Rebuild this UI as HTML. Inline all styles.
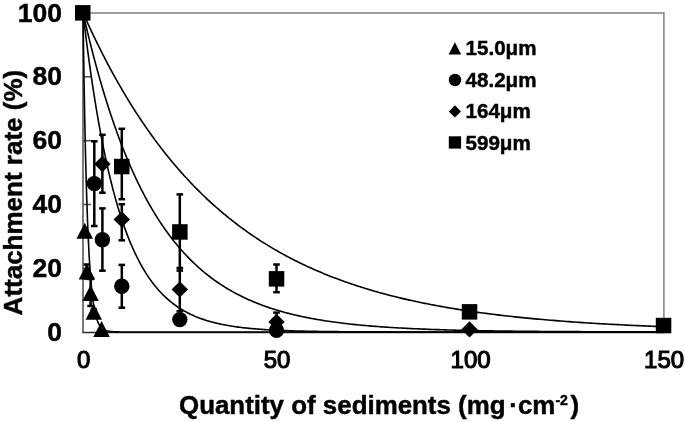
<!DOCTYPE html>
<html><head><meta charset="utf-8"><style>
html,body{margin:0;padding:0;background:#fff;}
svg{display:block;}
.fr{stroke:#7f7f7f;stroke-width:1.5;fill:none;}
.ax{stroke:#2a2a2a;stroke-width:1.5;fill:none;}
.la{stroke:#4d4d4d;stroke-width:1.5;fill:none;}
.cv{stroke:#000;stroke-width:1.6;fill:none;}
.eb{stroke:#000;stroke-width:2.5;}
text{font-family:"Liberation Sans",Arial,sans-serif;fill:#000;stroke:#000;stroke-width:0.45px;}
.yt{font-size:26.5px;font-weight:bold;text-anchor:end;}
.xt{font-size:24px;font-weight:normal;text-anchor:middle;stroke:#000;stroke-width:1.1px;}
.lg{font-size:20.6px;font-weight:bold;}
.tt{font-size:26px;font-weight:bold;}
</style></head><body>
<svg width="685" height="422" viewBox="0 0 685 422">
<line x1="83" y1="13" x2="664.6" y2="13" class="fr"/>
<line x1="663.9" y1="13" x2="663.9" y2="332.5" class="fr"/>
<line x1="83" y1="12.3" x2="83" y2="332.5" class="la"/>
<line x1="83" y1="268.4" x2="91" y2="268.4" class="la"/>
<line x1="83" y1="204.5" x2="91" y2="204.5" class="la"/>
<line x1="83" y1="140.7" x2="91" y2="140.7" class="la"/>
<line x1="83" y1="76.8" x2="91" y2="76.8" class="la"/>
<line x1="82.3" y1="332.5" x2="663.9" y2="332.5" class="ax"/>
<polyline class="cv" points="83.00,12.80 83.00,13.07 83.01,13.88 83.03,15.21 83.06,17.08 83.09,19.46 83.13,22.35 83.18,25.73 83.23,29.58 83.29,33.89 83.36,38.63 83.44,43.78 83.52,49.32 83.61,55.22 83.71,61.45 83.82,67.99 83.93,74.81 84.05,81.87 84.18,89.15 84.31,96.61 84.45,104.23 84.60,111.98 84.76,119.82 84.92,127.72 85.09,135.67 85.27,143.62 85.45,151.55 85.64,159.44 85.84,167.27 86.05,175.00 86.27,182.63 86.49,190.12 86.72,197.47 86.95,204.65 87.19,211.65 87.44,218.45 87.70,225.05 87.97,231.44 88.24,237.61 88.52,243.55 88.81,249.25 89.10,254.72 89.40,259.94 89.71,264.93 90.02,269.68 90.35,274.19 90.68,278.46 91.01,282.50 91.36,286.31 91.71,289.90 92.07,293.28 92.44,296.44 92.81,299.40 93.19,302.16 93.58,304.74 93.98,307.13 94.38,309.36 94.79,311.42 95.21,313.32 95.63,315.08 96.06,316.69 96.50,318.18 96.95,319.54 97.40,320.79 97.86,321.93 98.33,322.97 98.80,323.91 99.29,324.77 99.78,325.55 100.27,326.25 100.78,326.89 101.29,327.46 101.81,327.98 102.33,328.44 102.87,328.86 103.41,329.23 103.96,329.56 104.51,329.85 105.07,330.12 105.64,330.35 106.22,330.56 106.80,330.74 107.40,330.90 107.99,331.05 108.60,331.17 109.21,331.28 109.83,331.38 110.46,331.46 111.10,331.54 111.74,331.60 112.39,331.66 113.04,331.71 113.71,331.75 114.38,331.78 115.06,331.82 115.74,331.84 116.44,331.87 117.14,331.89 117.84,331.90 118.56,331.92 119.28,331.93 120.01,331.94 120.75,331.95 121.49,331.96 122.24,331.97 123.00,331.97 123.77,331.98 124.54,331.98 125.32,331.98 126.11,331.99 126.90,331.99 127.70,331.99 128.51,331.99 129.33,331.99 130.15,331.99 130.98,332.00 131.82,332.00 132.67,332.00 133.52,332.00 134.38,332.00 135.25,332.00 136.12,332.00 137.00,332.00 137.89,332.00 138.79,332.00 139.69,332.00 140.60,332.00 141.52,332.00 142.44,332.00 143.38,332.00 144.32,332.00 145.26,332.00 146.22,332.00 147.18,332.00 148.15,332.00 149.12,332.00 150.11,332.00 151.10,332.00 152.09,332.00 153.10,332.00 154.11,332.00 155.13,332.00 156.16,332.00 157.19,332.00 158.23,332.00 159.28,332.00 160.34,332.00 161.40,332.00 162.47,332.00 163.55,332.00 164.63,332.00 165.72,332.00 166.82,332.00 167.93,332.00 169.04,332.00 170.17,332.00 171.29,332.00 172.43,332.00 173.57,332.00 174.72,332.00 175.88,332.00 177.04,332.00 178.22,332.00 179.40,332.00 180.58,332.00 181.78,332.00 182.98,332.00 184.18,332.00 185.40,332.00 186.62,332.00 187.85,332.00 189.09,332.00 190.33,332.00 191.59,332.00 192.85,332.00 194.11,332.00 195.38,332.00 196.67,332.00 197.95,332.00 199.25,332.00 200.55,332.00 201.86,332.00 203.18,332.00 204.50,332.00 205.83,332.00 207.17,332.00 208.52,332.00 209.87,332.00 211.23,332.00 212.60,332.00 213.98,332.00 215.36,332.00 216.75,332.00 218.14,332.00 219.55,332.00 220.96,332.00 222.38,332.00 223.80,332.00 225.24,332.00 226.68,332.00 228.12,332.00 229.58,332.00 231.04,332.00 232.51,332.00 233.99,332.00 235.47,332.00 236.96,332.00 238.46,332.00 239.97,332.00 241.48,332.00 243.00,332.00 244.53,332.00 246.06,332.00 247.60,332.00 249.15,332.00 250.71,332.00 252.27,332.00 253.84,332.00 255.42,332.00 257.01,332.00 258.60,332.00 260.20,332.00 261.81,332.00 263.42,332.00 265.04,332.00 266.67,332.00 268.31,332.00 269.95,332.00 271.60,332.00 273.26,332.00 274.93,332.00 276.60,332.00 278.28,332.00 279.97,332.00 281.66,332.00 283.36,332.00 285.07,332.00 286.79,332.00 288.51,332.00 290.24,332.00 291.98,332.00 293.73,332.00 295.48,332.00 297.24,332.00 299.00,332.00 300.78,332.00 302.56,332.00 304.35,332.00 306.14,332.00 307.95,332.00 309.76,332.00 311.58,332.00 313.40,332.00 315.23,332.00 317.07,332.00 318.92,332.00 320.77,332.00 322.63,332.00 324.50,332.00 326.38,332.00 328.26,332.00 330.15,332.00 332.05,332.00 333.95,332.00 335.87,332.00 337.79,332.00 339.71,332.00 341.65,332.00 343.59,332.00 345.53,332.00 347.49,332.00 349.45,332.00 351.42,332.00 353.40,332.00 355.39,332.00 357.38,332.00 359.38,332.00 361.38,332.00 363.40,332.00 365.42,332.00 367.44,332.00 369.48,332.00 371.52,332.00 373.57,332.00 375.63,332.00 377.69,332.00 379.77,332.00 381.85,332.00 383.93,332.00 386.02,332.00 388.13,332.00 390.23,332.00 392.35,332.00 394.47,332.00 396.60,332.00 398.74,332.00 400.88,332.00 403.03,332.00 405.19,332.00 407.36,332.00 409.53,332.00 411.71,332.00 413.90,332.00 416.09,332.00 418.30,332.00 420.51,332.00 422.72,332.00 424.95,332.00 427.18,332.00 429.42,332.00 431.66,332.00 433.92,332.00 436.18,332.00 438.44,332.00 440.72,332.00 443.00,332.00 445.29,332.00 447.59,332.00 449.89,332.00 452.20,332.00 454.52,332.00 456.85,332.00 459.18,332.00 461.52,332.00 463.87,332.00 466.22,332.00 468.58,332.00 470.95,332.00 473.33,332.00 475.71,332.00 478.10,332.00 480.50,332.00 482.91,332.00 485.32,332.00 487.74,332.00 490.17,332.00 492.60,332.00 495.04,332.00 497.49,332.00 499.95,332.00 502.41,332.00 504.88,332.00 507.36,332.00 509.85,332.00 512.34,332.00 514.84,332.00 517.34,332.00 519.86,332.00 522.38,332.00 524.91,332.00 527.45,332.00 529.99,332.00 532.54,332.00 535.10,332.00 537.66,332.00 540.23,332.00 542.81,332.00 545.40,332.00 548.00,332.00 550.60,332.00 553.21,332.00 555.82,332.00 558.44,332.00 561.07,332.00 563.71,332.00 566.36,332.00 569.01,332.00 571.67,332.00 574.34,332.00 577.01,332.00 579.69,332.00 582.38,332.00 585.07,332.00 587.78,332.00 590.49,332.00 593.21,332.00 595.93,332.00 598.66,332.00 601.40,332.00 604.15,332.00 606.90,332.00 609.66,332.00 612.43,332.00 615.21,332.00 617.99,332.00 620.78,332.00 623.58,332.00 626.38,332.00 629.19,332.00 632.01,332.00 634.84,332.00 637.67,332.00 640.51,332.00 643.36,332.00 646.22,332.00 649.08,332.00 651.95,332.00 654.83,332.00 657.71,332.00 660.60,332.00 663.50,332.00"/>
<polyline class="cv" points="83.00,12.80 83.00,12.83 83.01,12.92 83.03,13.08 83.06,13.30 83.09,13.58 83.13,13.92 83.18,14.32 83.23,14.79 83.29,15.31 83.36,15.90 83.44,16.54 83.52,17.25 83.61,18.02 83.71,18.84 83.82,19.73 83.93,20.67 84.05,21.67 84.18,22.73 84.31,23.84 84.45,25.01 84.60,26.23 84.76,27.51 84.92,28.85 85.09,30.23 85.27,31.67 85.45,33.16 85.64,34.70 85.84,36.29 86.05,37.93 86.27,39.62 86.49,41.35 86.72,43.13 86.95,44.95 87.19,46.82 87.44,48.74 87.70,50.69 87.97,52.68 88.24,54.72 88.52,56.79 88.81,58.91 89.10,61.05 89.40,63.24 89.71,65.46 90.02,67.71 90.35,69.99 90.68,72.30 91.01,74.65 91.36,77.02 91.71,79.42 92.07,81.85 92.44,84.30 92.81,86.77 93.19,89.27 93.58,91.79 93.98,94.33 94.38,96.89 94.79,99.47 95.21,102.06 95.63,104.67 96.06,107.29 96.50,109.92 96.95,112.57 97.40,115.23 97.86,117.90 98.33,120.57 98.80,123.26 99.29,125.95 99.78,128.64 100.27,131.34 100.78,134.04 101.29,136.74 101.81,139.45 102.33,142.15 102.87,144.85 103.41,147.55 103.96,150.25 104.51,152.94 105.07,155.62 105.64,158.30 106.22,160.97 106.80,163.64 107.40,166.29 107.99,168.94 108.60,171.57 109.21,174.19 109.83,176.80 110.46,179.40 111.10,181.98 111.74,184.55 112.39,187.10 113.04,189.63 113.71,192.15 114.38,194.65 115.06,197.13 115.74,199.59 116.44,202.04 117.14,204.46 117.84,206.86 118.56,209.24 119.28,211.60 120.01,213.94 120.75,216.25 121.49,218.54 122.24,220.81 123.00,223.05 123.77,225.27 124.54,227.46 125.32,229.63 126.11,231.77 126.90,233.89 127.70,235.98 128.51,238.05 129.33,240.09 130.15,242.10 130.98,244.08 131.82,246.04 132.67,247.97 133.52,249.88 134.38,251.75 135.25,253.60 136.12,255.42 137.00,257.21 137.89,258.98 138.79,260.72 139.69,262.43 140.60,264.11 141.52,265.76 142.44,267.39 143.38,268.99 144.32,270.56 145.26,272.10 146.22,273.62 147.18,275.11 148.15,276.57 149.12,278.01 150.11,279.41 151.10,280.79 152.09,282.15 153.10,283.48 154.11,284.78 155.13,286.06 156.16,287.31 157.19,288.53 158.23,289.73 159.28,290.91 160.34,292.05 161.40,293.18 162.47,294.28 163.55,295.36 164.63,296.41 165.72,297.44 166.82,298.45 167.93,299.43 169.04,300.39 170.17,301.33 171.29,302.24 172.43,303.14 173.57,304.01 174.72,304.86 175.88,305.69 177.04,306.50 178.22,307.29 179.40,308.07 180.58,308.82 181.78,309.55 182.98,310.26 184.18,310.96 185.40,311.63 186.62,312.29 187.85,312.93 189.09,313.55 190.33,314.16 191.59,314.75 192.85,315.33 194.11,315.88 195.38,316.43 196.67,316.95 197.95,317.46 199.25,317.96 200.55,318.44 201.86,318.91 203.18,319.37 204.50,319.81 205.83,320.24 207.17,320.65 208.52,321.06 209.87,321.45 211.23,321.83 212.60,322.19 213.98,322.55 215.36,322.89 216.75,323.23 218.14,323.55 219.55,323.86 220.96,324.17 222.38,324.46 223.80,324.74 225.24,325.02 226.68,325.28 228.12,325.54 229.58,325.79 231.04,326.03 232.51,326.26 233.99,326.48 235.47,326.70 236.96,326.90 238.46,327.11 239.97,327.30 241.48,327.49 243.00,327.67 244.53,327.84 246.06,328.01 247.60,328.17 249.15,328.33 250.71,328.48 252.27,328.62 253.84,328.76 255.42,328.90 257.01,329.03 258.60,329.15 260.20,329.27 261.81,329.39 263.42,329.50 265.04,329.60 266.67,329.71 268.31,329.81 269.95,329.90 271.60,329.99 273.26,330.08 274.93,330.16 276.60,330.24 278.28,330.32 279.97,330.40 281.66,330.47 283.36,330.54 285.07,330.60 286.79,330.66 288.51,330.72 290.24,330.78 291.98,330.84 293.73,330.89 295.48,330.94 297.24,330.99 299.00,331.04 300.78,331.08 302.56,331.13 304.35,331.17 306.14,331.21 307.95,331.24 309.76,331.28 311.58,331.31 313.40,331.35 315.23,331.38 317.07,331.41 318.92,331.44 320.77,331.46 322.63,331.49 324.50,331.52 326.38,331.54 328.26,331.56 330.15,331.58 332.05,331.60 333.95,331.62 335.87,331.64 337.79,331.66 339.71,331.68 341.65,331.69 343.59,331.71 345.53,331.72 347.49,331.74 349.45,331.75 351.42,331.76 353.40,331.78 355.39,331.79 357.38,331.80 359.38,331.81 361.38,331.82 363.40,331.83 365.42,331.84 367.44,331.85 369.48,331.86 371.52,331.86 373.57,331.87 375.63,331.88 377.69,331.88 379.77,331.89 381.85,331.90 383.93,331.90 386.02,331.91 388.13,331.91 390.23,331.92 392.35,331.92 394.47,331.93 396.60,331.93 398.74,331.93 400.88,331.94 403.03,331.94 405.19,331.94 407.36,331.95 409.53,331.95 411.71,331.95 413.90,331.96 416.09,331.96 418.30,331.96 420.51,331.96 422.72,331.97 424.95,331.97 427.18,331.97 429.42,331.97 431.66,331.97 433.92,331.97 436.18,331.98 438.44,331.98 440.72,331.98 443.00,331.98 445.29,331.98 447.59,331.98 449.89,331.98 452.20,331.98 454.52,331.99 456.85,331.99 459.18,331.99 461.52,331.99 463.87,331.99 466.22,331.99 468.58,331.99 470.95,331.99 473.33,331.99 475.71,331.99 478.10,331.99 480.50,331.99 482.91,331.99 485.32,331.99 487.74,331.99 490.17,331.99 492.60,331.99 495.04,332.00 497.49,332.00 499.95,332.00 502.41,332.00 504.88,332.00 507.36,332.00 509.85,332.00 512.34,332.00 514.84,332.00 517.34,332.00 519.86,332.00 522.38,332.00 524.91,332.00 527.45,332.00 529.99,332.00 532.54,332.00 535.10,332.00 537.66,332.00 540.23,332.00 542.81,332.00 545.40,332.00 548.00,332.00 550.60,332.00 553.21,332.00 555.82,332.00 558.44,332.00 561.07,332.00 563.71,332.00 566.36,332.00 569.01,332.00 571.67,332.00 574.34,332.00 577.01,332.00 579.69,332.00 582.38,332.00 585.07,332.00 587.78,332.00 590.49,332.00 593.21,332.00 595.93,332.00 598.66,332.00 601.40,332.00 604.15,332.00 606.90,332.00 609.66,332.00 612.43,332.00 615.21,332.00 617.99,332.00 620.78,332.00 623.58,332.00 626.38,332.00 629.19,332.00 632.01,332.00 634.84,332.00 637.67,332.00 640.51,332.00 643.36,332.00 646.22,332.00 649.08,332.00 651.95,332.00 654.83,332.00 657.71,332.00 660.60,332.00 663.50,332.00"/>
<polyline class="cv" points="83.00,12.80 83.00,12.82 83.01,12.86 83.03,12.94 83.06,13.06 83.09,13.20 83.13,13.38 83.18,13.58 83.23,13.82 83.29,14.09 83.36,14.40 83.44,14.73 83.52,15.10 83.61,15.49 83.71,15.92 83.82,16.38 83.93,16.87 84.05,17.39 84.18,17.95 84.31,18.53 84.45,19.14 84.60,19.78 84.76,20.46 84.92,21.16 85.09,21.89 85.27,22.65 85.45,23.44 85.64,24.26 85.84,25.11 86.05,25.98 86.27,26.89 86.49,27.82 86.72,28.78 86.95,29.77 87.19,30.78 87.44,31.82 87.70,32.89 87.97,33.98 88.24,35.10 88.52,36.25 88.81,37.41 89.10,38.61 89.40,39.83 89.71,41.07 90.02,42.34 90.35,43.63 90.68,44.94 91.01,46.28 91.36,47.64 91.71,49.02 92.07,50.42 92.44,51.84 92.81,53.28 93.19,54.75 93.58,56.23 93.98,57.73 94.38,59.26 94.79,60.80 95.21,62.36 95.63,63.94 96.06,65.53 96.50,67.14 96.95,68.77 97.40,70.42 97.86,72.08 98.33,73.76 98.80,75.45 99.29,77.15 99.78,78.87 100.27,80.61 100.78,82.35 101.29,84.11 101.81,85.88 102.33,87.67 102.87,89.46 103.41,91.27 103.96,93.08 104.51,94.91 105.07,96.75 105.64,98.59 106.22,100.44 106.80,102.31 107.40,104.18 107.99,106.06 108.60,107.94 109.21,109.83 109.83,111.73 110.46,113.63 111.10,115.54 111.74,117.45 112.39,119.37 113.04,121.29 113.71,123.22 114.38,125.15 115.06,127.08 115.74,129.01 116.44,130.95 117.14,132.88 117.84,134.82 118.56,136.76 119.28,138.70 120.01,140.64 120.75,142.58 121.49,144.51 122.24,146.45 123.00,148.38 123.77,150.32 124.54,152.25 125.32,154.18 126.11,156.10 126.90,158.02 127.70,159.94 128.51,161.85 129.33,163.76 130.15,165.67 130.98,167.57 131.82,169.46 132.67,171.35 133.52,173.23 134.38,175.11 135.25,176.98 136.12,178.84 137.00,180.70 137.89,182.54 138.79,184.38 139.69,186.22 140.60,188.04 141.52,189.85 142.44,191.66 143.38,193.46 144.32,195.25 145.26,197.03 146.22,198.79 147.18,200.55 148.15,202.30 149.12,204.04 150.11,205.77 151.10,207.48 152.09,209.19 153.10,210.88 154.11,212.57 155.13,214.24 156.16,215.90 157.19,217.55 158.23,219.18 159.28,220.81 160.34,222.42 161.40,224.02 162.47,225.60 163.55,227.17 164.63,228.73 165.72,230.28 166.82,231.82 167.93,233.34 169.04,234.84 170.17,236.34 171.29,237.82 172.43,239.29 173.57,240.74 174.72,242.18 175.88,243.60 177.04,245.02 178.22,246.41 179.40,247.80 180.58,249.17 181.78,250.52 182.98,251.87 184.18,253.19 185.40,254.51 186.62,255.80 187.85,257.09 189.09,258.36 190.33,259.62 191.59,260.86 192.85,262.08 194.11,263.30 195.38,264.50 196.67,265.68 197.95,266.85 199.25,268.01 200.55,269.15 201.86,270.28 203.18,271.39 204.50,272.49 205.83,273.58 207.17,274.65 208.52,275.70 209.87,276.75 211.23,277.78 212.60,278.79 213.98,279.80 215.36,280.78 216.75,281.76 218.14,282.72 219.55,283.67 220.96,284.60 222.38,285.52 223.80,286.43 225.24,287.32 226.68,288.20 228.12,289.07 229.58,289.92 231.04,290.77 232.51,291.60 233.99,292.41 235.47,293.22 236.96,294.01 238.46,294.79 239.97,295.55 241.48,296.31 243.00,297.05 244.53,297.78 246.06,298.50 247.60,299.20 249.15,299.90 250.71,300.58 252.27,301.25 253.84,301.92 255.42,302.56 257.01,303.20 258.60,303.83 260.20,304.45 261.81,305.05 263.42,305.65 265.04,306.23 266.67,306.80 268.31,307.37 269.95,307.92 271.60,308.46 273.26,309.00 274.93,309.52 276.60,310.04 278.28,310.54 279.97,311.03 281.66,311.52 283.36,312.00 285.07,312.46 286.79,312.92 288.51,313.37 290.24,313.81 291.98,314.24 293.73,314.67 295.48,315.08 297.24,315.49 299.00,315.89 300.78,316.28 302.56,316.66 304.35,317.03 306.14,317.40 307.95,317.76 309.76,318.11 311.58,318.46 313.40,318.79 315.23,319.12 317.07,319.45 318.92,319.76 320.77,320.07 322.63,320.38 324.50,320.67 326.38,320.96 328.26,321.25 330.15,321.52 332.05,321.79 333.95,322.06 335.87,322.32 337.79,322.57 339.71,322.82 341.65,323.06 343.59,323.30 345.53,323.53 347.49,323.76 349.45,323.98 351.42,324.19 353.40,324.40 355.39,324.61 357.38,324.81 359.38,325.01 361.38,325.20 363.40,325.38 365.42,325.57 367.44,325.74 369.48,325.92 371.52,326.09 373.57,326.25 375.63,326.41 377.69,326.57 379.77,326.72 381.85,326.87 383.93,327.02 386.02,327.16 388.13,327.30 390.23,327.43 392.35,327.57 394.47,327.69 396.60,327.82 398.74,327.94 400.88,328.06 403.03,328.17 405.19,328.29 407.36,328.40 409.53,328.50 411.71,328.61 413.90,328.71 416.09,328.81 418.30,328.90 420.51,329.00 422.72,329.09 424.95,329.17 427.18,329.26 429.42,329.34 431.66,329.43 433.92,329.50 436.18,329.58 438.44,329.66 440.72,329.73 443.00,329.80 445.29,329.87 447.59,329.93 449.89,330.00 452.20,330.06 454.52,330.12 456.85,330.18 459.18,330.24 461.52,330.30 463.87,330.35 466.22,330.40 468.58,330.45 470.95,330.50 473.33,330.55 475.71,330.60 478.10,330.64 480.50,330.69 482.91,330.73 485.32,330.77 487.74,330.81 490.17,330.85 492.60,330.89 495.04,330.93 497.49,330.96 499.95,331.00 502.41,331.03 504.88,331.06 507.36,331.10 509.85,331.13 512.34,331.16 514.84,331.18 517.34,331.21 519.86,331.24 522.38,331.27 524.91,331.29 527.45,331.31 529.99,331.34 532.54,331.36 535.10,331.38 537.66,331.41 540.23,331.43 542.81,331.45 545.40,331.47 548.00,331.48 550.60,331.50 553.21,331.52 555.82,331.54 558.44,331.55 561.07,331.57 563.71,331.59 566.36,331.60 569.01,331.61 571.67,331.63 574.34,331.64 577.01,331.65 579.69,331.67 582.38,331.68 585.07,331.69 587.78,331.70 590.49,331.71 593.21,331.72 595.93,331.73 598.66,331.74 601.40,331.75 604.15,331.76 606.90,331.77 609.66,331.78 612.43,331.79 615.21,331.80 617.99,331.80 620.78,331.81 623.58,331.82 626.38,331.83 629.19,331.83 632.01,331.84 634.84,331.84 637.67,331.85 640.51,331.86 643.36,331.86 646.22,331.87 649.08,331.87 651.95,331.88 654.83,331.88 657.71,331.89 660.60,331.89 663.50,331.90"/>
<polyline class="cv" points="83.00,12.80 83.00,12.81 83.01,12.83 83.03,12.87 83.06,12.93 83.09,13.00 83.13,13.09 83.18,13.20 83.23,13.32 83.29,13.46 83.36,13.62 83.44,13.79 83.52,13.97 83.61,14.18 83.71,14.40 83.82,14.63 83.93,14.88 84.05,15.15 84.18,15.44 84.31,15.74 84.45,16.05 84.60,16.38 84.76,16.73 84.92,17.09 85.09,17.47 85.27,17.87 85.45,18.28 85.64,18.70 85.84,19.14 86.05,19.60 86.27,20.07 86.49,20.56 86.72,21.06 86.95,21.57 87.19,22.11 87.44,22.65 87.70,23.21 87.97,23.79 88.24,24.38 88.52,24.99 88.81,25.61 89.10,26.24 89.40,26.89 89.71,27.55 90.02,28.23 90.35,28.92 90.68,29.63 91.01,30.35 91.36,31.08 91.71,31.82 92.07,32.58 92.44,33.36 92.81,34.14 93.19,34.94 93.58,35.76 93.98,36.58 94.38,37.42 94.79,38.27 95.21,39.13 95.63,40.01 96.06,40.90 96.50,41.80 96.95,42.71 97.40,43.63 97.86,44.57 98.33,45.52 98.80,46.47 99.29,47.44 99.78,48.43 100.27,49.42 100.78,50.42 101.29,51.44 101.81,52.46 102.33,53.50 102.87,54.54 103.41,55.60 103.96,56.67 104.51,57.74 105.07,58.83 105.64,59.92 106.22,61.03 106.80,62.14 107.40,63.27 107.99,64.40 108.60,65.54 109.21,66.69 109.83,67.85 110.46,69.01 111.10,70.19 111.74,71.37 112.39,72.56 113.04,73.76 113.71,74.97 114.38,76.18 115.06,77.41 115.74,78.63 116.44,79.87 117.14,81.11 117.84,82.36 118.56,83.62 119.28,84.88 120.01,86.15 120.75,87.42 121.49,88.70 122.24,89.99 123.00,91.28 123.77,92.57 124.54,93.88 125.32,95.18 126.11,96.49 126.90,97.81 127.70,99.13 128.51,100.46 129.33,101.79 130.15,103.12 130.98,104.46 131.82,105.80 132.67,107.14 133.52,108.49 134.38,109.84 135.25,111.20 136.12,112.56 137.00,113.92 137.89,115.28 138.79,116.64 139.69,118.01 140.60,119.38 141.52,120.76 142.44,122.13 143.38,123.51 144.32,124.88 145.26,126.26 146.22,127.64 147.18,129.02 148.15,130.41 149.12,131.79 150.11,133.17 151.10,134.56 152.09,135.94 153.10,137.33 154.11,138.71 155.13,140.10 156.16,141.48 157.19,142.87 158.23,144.25 159.28,145.63 160.34,147.02 161.40,148.40 162.47,149.78 163.55,151.16 164.63,152.54 165.72,153.92 166.82,155.29 167.93,156.67 169.04,158.04 170.17,159.41 171.29,160.78 172.43,162.14 173.57,163.51 174.72,164.87 175.88,166.23 177.04,167.58 178.22,168.94 179.40,170.29 180.58,171.64 181.78,172.98 182.98,174.32 184.18,175.66 185.40,176.99 186.62,178.33 187.85,179.65 189.09,180.98 190.33,182.30 191.59,183.61 192.85,184.93 194.11,186.23 195.38,187.54 196.67,188.84 197.95,190.13 199.25,191.42 200.55,192.71 201.86,193.99 203.18,195.26 204.50,196.54 205.83,197.80 207.17,199.06 208.52,200.32 209.87,201.57 211.23,202.82 212.60,204.06 213.98,205.29 215.36,206.52 216.75,207.75 218.14,208.96 219.55,210.18 220.96,211.38 222.38,212.58 223.80,213.78 225.24,214.97 226.68,216.15 228.12,217.33 229.58,218.50 231.04,219.66 232.51,220.82 233.99,221.97 235.47,223.12 236.96,224.26 238.46,225.39 239.97,226.52 241.48,227.64 243.00,228.75 244.53,229.86 246.06,230.96 247.60,232.05 249.15,233.14 250.71,234.22 252.27,235.29 253.84,236.36 255.42,237.41 257.01,238.47 258.60,239.51 260.20,240.55 261.81,241.58 263.42,242.60 265.04,243.62 266.67,244.63 268.31,245.63 269.95,246.63 271.60,247.62 273.26,248.60 274.93,249.57 276.60,250.54 278.28,251.50 279.97,252.45 281.66,253.40 283.36,254.34 285.07,255.27 286.79,256.19 288.51,257.11 290.24,258.01 291.98,258.92 293.73,259.81 295.48,260.70 297.24,261.58 299.00,262.45 300.78,263.31 302.56,264.17 304.35,265.02 306.14,265.86 307.95,266.70 309.76,267.53 311.58,268.35 313.40,269.16 315.23,269.97 317.07,270.77 318.92,271.56 320.77,272.35 322.63,273.13 324.50,273.90 326.38,274.66 328.26,275.42 330.15,276.17 332.05,276.91 333.95,277.65 335.87,278.37 337.79,279.10 339.71,279.81 341.65,280.52 343.59,281.22 345.53,281.91 347.49,282.60 349.45,283.28 351.42,283.95 353.40,284.61 355.39,285.27 357.38,285.92 359.38,286.57 361.38,287.21 363.40,287.84 365.42,288.46 367.44,289.08 369.48,289.69 371.52,290.30 373.57,290.90 375.63,291.49 377.69,292.08 379.77,292.66 381.85,293.23 383.93,293.79 386.02,294.35 388.13,294.91 390.23,295.46 392.35,296.00 394.47,296.53 396.60,297.06 398.74,297.58 400.88,298.10 403.03,298.61 405.19,299.12 407.36,299.61 409.53,300.11 411.71,300.59 413.90,301.07 416.09,301.55 418.30,302.02 420.51,302.48 422.72,302.94 424.95,303.39 427.18,303.84 429.42,304.28 431.66,304.72 433.92,305.15 436.18,305.57 438.44,305.99 440.72,306.41 443.00,306.81 445.29,307.22 447.59,307.62 449.89,308.01 452.20,308.40 454.52,308.78 456.85,309.16 459.18,309.53 461.52,309.90 463.87,310.26 466.22,310.62 468.58,310.97 470.95,311.32 473.33,311.67 475.71,312.00 478.10,312.34 480.50,312.67 482.91,312.99 485.32,313.31 487.74,313.63 490.17,313.94 492.60,314.25 495.04,314.55 497.49,314.85 499.95,315.15 502.41,315.44 504.88,315.72 507.36,316.01 509.85,316.28 512.34,316.56 514.84,316.83 517.34,317.09 519.86,317.35 522.38,317.61 524.91,317.87 527.45,318.12 529.99,318.36 532.54,318.61 535.10,318.85 537.66,319.08 540.23,319.32 542.81,319.54 545.40,319.77 548.00,319.99 550.60,320.21 553.21,320.42 555.82,320.64 558.44,320.84 561.07,321.05 563.71,321.25 566.36,321.45 569.01,321.65 571.67,321.84 574.34,322.03 577.01,322.21 579.69,322.40 582.38,322.58 585.07,322.76 587.78,322.93 590.49,323.10 593.21,323.27 595.93,323.44 598.66,323.60 601.40,323.76 604.15,323.92 606.90,324.07 609.66,324.23 612.43,324.38 615.21,324.53 617.99,324.67 620.78,324.81 623.58,324.95 626.38,325.09 629.19,325.23 632.01,325.36 634.84,325.49 637.67,325.62 640.51,325.75 643.36,325.87 646.22,325.99 649.08,326.11 651.95,326.23 654.83,326.35 657.71,326.46 660.60,326.57 663.50,326.68"/>

<line x1="86.9" y1="264.5" x2="86.9" y2="278.5" class="eb"/><line x1="83.6" y1="264.5" x2="90.2" y2="264.5" class="eb"/><line x1="83.6" y1="278.5" x2="90.2" y2="278.5" class="eb"/>
<line x1="90.6" y1="279.0" x2="90.6" y2="306.0" class="eb"/><line x1="87.3" y1="279.0" x2="93.9" y2="279.0" class="eb"/><line x1="87.3" y1="306.0" x2="93.9" y2="306.0" class="eb"/>
<line x1="93.8" y1="309.5" x2="93.8" y2="314.0" class="eb"/><line x1="90.5" y1="309.5" x2="97.1" y2="309.5" class="eb"/><line x1="90.5" y1="314.0" x2="97.1" y2="314.0" class="eb"/>

<line x1="94.3" y1="141.3" x2="94.3" y2="226.0" class="eb"/><line x1="91.0" y1="141.3" x2="97.6" y2="141.3" class="eb"/><line x1="91.0" y1="226.0" x2="97.6" y2="226.0" class="eb"/>
<line x1="102.4" y1="208.4" x2="102.4" y2="270.7" class="eb"/><line x1="99.1" y1="208.4" x2="105.7" y2="208.4" class="eb"/><line x1="99.1" y1="270.7" x2="105.7" y2="270.7" class="eb"/>
<line x1="121.8" y1="264.9" x2="121.8" y2="307.7" class="eb"/><line x1="118.5" y1="264.9" x2="125.1" y2="264.9" class="eb"/><line x1="118.5" y1="307.7" x2="125.1" y2="307.7" class="eb"/>


<line x1="102.4" y1="134.8" x2="102.4" y2="192.7" class="eb"/><line x1="99.1" y1="134.8" x2="105.7" y2="134.8" class="eb"/><line x1="99.1" y1="192.7" x2="105.7" y2="192.7" class="eb"/>
<line x1="121.8" y1="204.2" x2="121.8" y2="240.3" class="eb"/><line x1="118.5" y1="204.2" x2="125.1" y2="204.2" class="eb"/><line x1="118.5" y1="240.3" x2="125.1" y2="240.3" class="eb"/>
<line x1="179.8" y1="268.0" x2="179.8" y2="311.2" class="eb"/><line x1="176.5" y1="268.0" x2="183.1" y2="268.0" class="eb"/><line x1="176.5" y1="311.2" x2="183.1" y2="311.2" class="eb"/>
<line x1="276.5" y1="312.6" x2="276.5" y2="331.2" class="eb"/><line x1="273.2" y1="312.6" x2="279.8" y2="312.6" class="eb"/><line x1="273.2" y1="331.2" x2="279.8" y2="331.2" class="eb"/>


<line x1="121.8" y1="128.8" x2="121.8" y2="199.2" class="eb"/><line x1="118.5" y1="128.8" x2="125.1" y2="128.8" class="eb"/><line x1="118.5" y1="199.2" x2="125.1" y2="199.2" class="eb"/>
<line x1="179.8" y1="194.4" x2="179.8" y2="270.6" class="eb"/><line x1="176.5" y1="194.4" x2="183.1" y2="194.4" class="eb"/><line x1="176.5" y1="270.6" x2="183.1" y2="270.6" class="eb"/>
<line x1="276.5" y1="264.5" x2="276.5" y2="292.2" class="eb"/><line x1="273.2" y1="264.5" x2="279.8" y2="264.5" class="eb"/><line x1="273.2" y1="292.2" x2="279.8" y2="292.2" class="eb"/>


<polygon points="84.7,222.8 93.0,238.8 76.5,238.8"/>
<polygon points="86.9,263.5 95.2,279.5 78.7,279.5"/>
<polygon points="90.6,285.0 98.8,301.0 82.3,301.0"/>
<polygon points="93.8,303.7 102.0,319.7 85.5,319.7"/>
<polygon points="101.6,321.0 109.8,337.0 93.3,337.0"/>
<circle cx="94.3" cy="183.6" r="7.7"/>
<circle cx="102.4" cy="239.7" r="7.7"/>
<circle cx="121.8" cy="286.2" r="7.7"/>
<circle cx="179.8" cy="319.6" r="7.7"/>
<circle cx="276.5" cy="330.4" r="7.7"/>
<polygon points="102.4,155.8 110.6,164.0 102.4,172.2 94.2,164.0"/>
<polygon points="121.8,211.2 130.0,219.4 121.8,227.6 113.6,219.4"/>
<polygon points="179.8,281.2 188.0,289.4 179.8,297.6 171.6,289.4"/>
<polygon points="276.5,313.7 284.7,321.9 276.5,330.1 268.3,321.9"/>
<polygon points="469.5,321.2 477.7,329.4 469.5,337.6 461.3,329.4"/>
<rect x="75.0" y="5.1" width="15.5" height="15.5"/>
<rect x="114.0" y="158.8" width="15.5" height="15.5"/>
<rect x="172.1" y="224.2" width="15.5" height="15.5"/>
<rect x="268.8" y="271.1" width="15.5" height="15.5"/>
<rect x="461.8" y="304.1" width="15.5" height="15.5"/>
<rect x="655.8" y="317.8" width="15.5" height="15.5"/>
<text x="62" y="340.8" class="yt">0</text>
<text x="62" y="277.0" class="yt">20</text>
<text x="62" y="213.1" class="yt">40</text>
<text x="62" y="149.3" class="yt">60</text>
<text x="62" y="85.4" class="yt">80</text>
<text x="62" y="21.6" class="yt">100</text>
<text x="83.6" y="368.3" class="xt">0</text>
<text x="277.1" y="368.3" class="xt">50</text>
<text x="470.6" y="368.3" class="xt">100</text>
<text x="664.1" y="368.3" class="xt">150</text>
<polygon points="454.9,42.3 461.2,54.6 448.6,54.6"/>
<text x="465.5" y="55.1" class="lg">15.0μm</text>
<circle cx="455.0" cy="80.0" r="6.2"/>
<text x="465.5" y="86.6" class="lg">48.2μm</text>
<polygon points="454.9,105.3 461.0,111.4 454.9,117.5 448.8,111.4"/>
<text x="465.5" y="118.1" class="lg">164μm</text>
<rect x="448.8" y="136.3" width="12.3" height="12.3"/>
<text x="465.5" y="149.6" class="lg">599μm</text>
<text x="179" y="414" class="tt" style="font-size:25.9px">Quantity of sediments (mg<tspan dx="3.6">·</tspan><tspan dx="0.2">cm</tspan><tspan dy="-9.5" font-size="14">-2</tspan><tspan dy="9.5" dx="2.6">)</tspan></text>
<text transform="translate(21.6,315.4) rotate(-90)" x="0" y="0" class="tt">Attachment rate (%)</text>
</svg>
</body></html>
